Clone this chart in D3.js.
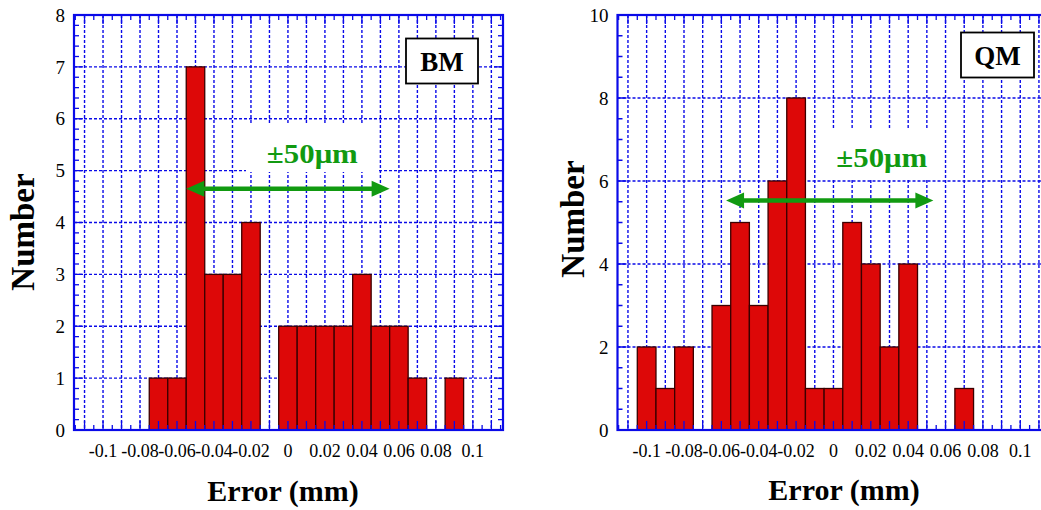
<!DOCTYPE html>
<html>
<head>
<meta charset="utf-8">
<script src="https://cdn.jsdelivr.net/npm/d3@7"></script>
<style>
  html, body { margin: 0; padding: 0; background: #fff; }
</style>
</head>
<body>
<svg id="chart" width="1041" height="510" font-family="'Liberation Serif', serif"></svg>
<script>
// ---------- data ----------
const binWidth = 0.01;
const bmCenters = [-0.07, -0.06, -0.05, -0.04, -0.03, -0.02, 0, 0.01, 0.02, 0.03, 0.04, 0.05, 0.06, 0.07, 0.09];
const bmCounts  = [1, 1, 7, 3, 3, 4, 2, 2, 2, 2, 3, 2, 2, 1, 1];
const qmCenters = [-0.10, -0.09, -0.08, -0.06, -0.05, -0.04, -0.03, -0.02, -0.01, 0, 0.01, 0.02, 0.03, 0.04, 0.07];
const qmCounts  = [2, 1, 2, 3, 5, 3, 6, 8, 1, 1, 5, 4, 2, 4, 1];
const xTickLabels = [-0.1, -0.08, -0.06, -0.04, -0.02, 0, 0.02, 0.04, 0.06, 0.08, 0.1];
const bmYTicks = [0, 1, 2, 3, 4, 5, 6, 7, 8];
const qmYTicks = [0, 2, 4, 6, 8, 10];
const xTitle = "Error (mm)";
const yTitle = "Number";
const bandLabel = "±50μm";
const bmArrow = [-0.055, 0.055];
const qmArrow = [-0.0575, 0.0535];

const svg = d3.select("#chart");
const BLUE = "#0a0ae8";
const GREEN = "#119a11";
const FONT = "'Liberation Serif', 'Times New Roman', serif";

function drawChart(cfg) {
  const x = d3.scaleLinear().domain(cfg.xDomain).range([cfg.left, cfg.right]);
  const y = d3.scaleLinear().domain(cfg.yDomain).range([cfg.bottom, cfg.top]);
  const g = svg.append("g").attr("font-family", FONT);

  const clipId = "clip" + cfg.name;
  svg.append("clipPath").attr("id", clipId).append("rect")
    .attr("x", cfg.left).attr("y", cfg.top)
    .attr("width", cfg.right - cfg.left).attr("height", cfg.bottom - cfg.top);
  const pg = g.append("g").attr("clip-path", `url(#${clipId})`);

  // vertical grid at every 0.01
  const vGrid = d3.range(-11, 12).map(i => i / 100);
  pg.selectAll(".vg").data(vGrid).join("line")
    .attr("x1", d => x(d)).attr("x2", d => x(d))
    .attr("y1", cfg.top).attr("y2", cfg.bottom)
    .attr("stroke", BLUE).attr("stroke-width", 1.4).attr("stroke-dasharray", "3,2");
  // horizontal grid
  const hGrid = cfg.yTicks.filter(v => v > cfg.yDomain[0] && v < cfg.yDomain[1]);
  pg.selectAll(".hg").data(hGrid).join("line")
    .attr("x1", cfg.left).attr("x2", cfg.right)
    .attr("y1", d => y(d)).attr("y2", d => y(d))
    .attr("stroke", BLUE).attr("stroke-width", 1.4).attr("stroke-dasharray", "3,2");

  // white box behind the label
  pg.append("rect")
    .attr("x", cfg.labelBox[0]).attr("y", cfg.labelBox[1])
    .attr("width", cfg.labelBox[2]).attr("height", cfg.labelBox[3])
    .attr("fill", "#fff");

  // bars
  pg.selectAll(".bar").data(cfg.centers.map((c, i) => ({c, n: cfg.counts[i]}))).join("rect")
    .attr("x", d => x(d.c - binWidth / 2))
    .attr("width", d => x(d.c + binWidth / 2) - x(d.c - binWidth / 2))
    .attr("y", d => y(d.n))
    .attr("height", d => y(0) - y(d.n))
    .attr("fill", "#dd0808").attr("stroke", "#3a0000").attr("stroke-width", 1.3);

  // x ticks (bottom and top): major every 0.01, minor every 0.005
  const xMinor = d3.range(-23, 24).map(i => i / 200);
  const isXMajor = d => Math.abs(Math.round(d * 200)) % 2 === 0;
  const tickG = pg.append("g");
  tickG.selectAll(".xb").data(xMinor).join("line")
    .attr("x1", d => x(d)).attr("x2", d => x(d))
    .attr("y1", cfg.bottom)
    .attr("y2", d => cfg.bottom - (isXMajor(d) ? 9 : 5))
    .attr("stroke", BLUE).attr("stroke-width", 1.3);
  tickG.selectAll(".xt").data(xMinor).join("line")
    .attr("x1", d => x(d)).attr("x2", d => x(d))
    .attr("y1", cfg.top)
    .attr("y2", d => cfg.top + (isXMajor(d) ? 9 : 5))
    .attr("stroke", BLUE).attr("stroke-width", 1.3);
  // y ticks (left and right)
  const yMinor = d3.range(cfg.yDomain[0], cfg.yDomain[1] + 1e-9, cfg.yMinorStep);
  const isMajor = v => cfg.yTicks.some(t => Math.abs(t - v) < 1e-6);
  tickG.selectAll(".yl").data(yMinor).join("line")
    .attr("x1", cfg.left).attr("x2", d => cfg.left + (isMajor(d) ? 9 : 5))
    .attr("y1", d => y(d)).attr("y2", d => y(d))
    .attr("stroke", BLUE).attr("stroke-width", 1.3);
  tickG.selectAll(".yr").data(yMinor).join("line")
    .attr("x1", cfg.right).attr("x2", d => cfg.right - (isMajor(d) ? 9 : 5))
    .attr("y1", d => y(d)).attr("y2", d => y(d))
    .attr("stroke", BLUE).attr("stroke-width", 1.3);

  // frame
  g.append("rect")
    .attr("x", cfg.left).attr("y", cfg.top)
    .attr("width", cfg.right - cfg.left).attr("height", cfg.bottom - cfg.top)
    .attr("fill", "none").attr("stroke", BLUE).attr("stroke-width", 2.2);

  // x tick labels
  g.selectAll(".xl").data(xTickLabels).join("text")
    .attr("x", d => x(d)).attr("y", cfg.bottom + 27)
    .attr("text-anchor", "middle").attr("font-size", 18).attr("fill", "#000")
    .text(d => String(+d.toFixed(2)));
  // y tick labels
  g.selectAll(".yl2").data(cfg.yTicks).join("text")
    .attr("x", cfg.left - 9).attr("y", d => y(d))
    .attr("dy", "0.35em")
    .attr("text-anchor", "end").attr("font-size", 19).attr("fill", "#000")
    .text(d => d);

  // axis titles
  g.append("text")
    .attr("x", cfg.xTitlePos[0]).attr("y", cfg.xTitlePos[1])
    .attr("text-anchor", "middle").attr("font-size", 30).attr("font-weight", "bold")
    .text(xTitle);
  g.append("text")
    .attr("transform", `translate(${cfg.yTitlePos[0]},${cfg.yTitlePos[1]}) rotate(-90)`)
    .attr("text-anchor", "middle").attr("font-size", 33).attr("font-weight", "bold")
    .text(yTitle);

  // arrow
  const ay = y(cfg.arrowY), ax1 = x(cfg.arrow[0]), ax2 = x(cfg.arrow[1]);
  const hl = 18, hw = 8;
  g.append("line")
    .attr("x1", ax1 + hl - 2).attr("x2", ax2 - hl + 2)
    .attr("y1", ay).attr("y2", ay)
    .attr("stroke", GREEN).attr("stroke-width", 4.5);
  g.append("path")
    .attr("d", `M${ax1},${ay} L${ax1 + hl},${ay - hw} L${ax1 + hl},${ay + hw} Z`)
    .attr("fill", GREEN);
  g.append("path")
    .attr("d", `M${ax2},${ay} L${ax2 - hl},${ay - hw} L${ax2 - hl},${ay + hw} Z`)
    .attr("fill", GREEN);

  // band label
  g.append("text")
    .attr("x", x(cfg.labelPos[0])).attr("y", y(cfg.labelPos[1]))
    .attr("text-anchor", "middle").attr("font-size", 28).attr("font-weight", "bold")
    .attr("fill", GREEN)
    .attr("textLength", 91).attr("lengthAdjust", "spacingAndGlyphs")
    .text(bandLabel);

  // legend box
  g.append("rect")
    .attr("x", cfg.legendBox[0]).attr("y", cfg.legendBox[1])
    .attr("width", cfg.legendBox[2]).attr("height", cfg.legendBox[3])
    .attr("fill", "#fff").attr("stroke", "#000").attr("stroke-width", 1.8);
  g.append("text")
    .attr("x", cfg.legendBox[0] + cfg.legendBox[2] / 2)
    .attr("y", cfg.legendBox[1] + cfg.legendBox[3] / 2 + 9.5)
    .attr("text-anchor", "middle").attr("font-size", 27).attr("font-weight", "bold")
    .text(cfg.name);
}

drawChart({
  name: "BM",
  centers: bmCenters, counts: bmCounts,
  xDomain: [-0.1157, 0.1163], yDomain: [0, 8],
  left: 74, right: 503, top: 15, bottom: 430,
  yTicks: bmYTicks, yMinorStep: 0.2,
  arrow: bmArrow, arrowY: 4.65,
  labelPos: [0.0132, 5.15],
  labelBox: [246, 125, 131, 47],
  legendBox: [406, 38.5, 72, 45],
  xTitlePos: [283, 501], yTitlePos: [34, 232]
});

drawChart({
  name: "QM",
  centers: qmCenters, counts: qmCounts,
  xDomain: [-0.1156, 0.1156], yDomain: [0, 10],
  left: 617.5, right: 1049.4, top: 15, bottom: 430,
  yTicks: qmYTicks, yMinorStep: 0.5,
  arrow: qmArrow, arrowY: 5.53,
  labelPos: [0.0259, 6.34],
  labelBox: [818, 130, 126, 50],
  legendBox: [961, 32.5, 73, 45],
  xTitlePos: [844, 500], yTitlePos: [584, 219]
});
</script>
</body>
</html>
